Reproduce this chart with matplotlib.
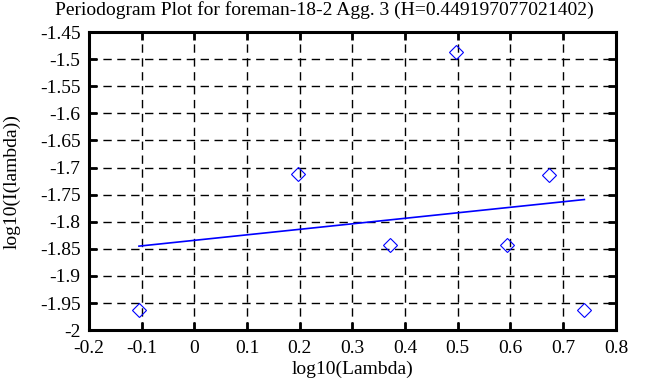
import matplotlib
matplotlib.use("Agg")
import matplotlib.pyplot as plt

# periodogram points (log10 of lambda, log10 of I(lambda))
log_lambda = [-0.1049, 0.1961, 0.3722, 0.4971, 0.5940, 0.6732, 0.7402]
log_I = [-1.963, -1.711, -1.843, -1.487, -1.843, -1.713, -1.963]

# least squares fit line, endpoints
fit_x = [-0.1049, 0.7402]
fit_y = [-1.845, -1.759]

title = "Periodogram Plot for foreman-18-2 Agg. 3 (H=0.449197077021402)"
xticks = [-0.2, -0.1, 0, 0.1, 0.2, 0.3, 0.4, 0.5, 0.6, 0.7, 0.8]
yticks = [-2, -1.95, -1.9, -1.85, -1.8, -1.75, -1.7, -1.65, -1.6, -1.55, -1.5, -1.45]

plt.rcParams["font.family"] = ["Liberation Serif", "DejaVu Serif"]

fig = plt.figure(figsize=(6.68, 3.87), dpi=100)
ax = fig.add_axes([0.133, 0.147, 0.789, 0.770])

ax.plot(fit_x, fit_y, color="#0000ff", linewidth=1.2)
ax.plot(log_lambda, log_I, linestyle="none", marker="D", markersize=7.5,
        markerfacecolor="none", markeredgecolor="#0000ff", markeredgewidth=0.8)

ax.set_xlim(-0.2, 0.8)
ax.set_ylim(-2, -1.45)
ax.set_xticks(xticks)
ax.set_yticks(yticks)
ax.set_xticklabels(["%g" % v for v in xticks])
ax.set_yticklabels(["%g" % v for v in yticks])

ax.grid(True, color="black", linestyle=(0, (6, 4)), linewidth=1.0)
ax.tick_params(direction="in", length=6, width=2, top=True, right=True,
               labelsize=14)
ax.tick_params(axis="x", pad=7)
ax.tick_params(axis="y", pad=6)
for sp in ax.spines.values():
    sp.set_linewidth(2.2)

fig.text(0.485, 0.998, title, fontsize=14, ha="center", va="top")
ax.set_xlabel("log10(Lambda)", fontsize=14, labelpad=3)
ax.set_ylabel("log10(I(lambda))", fontsize=14, labelpad=14)

fig.savefig("out.png", dpi=100)
